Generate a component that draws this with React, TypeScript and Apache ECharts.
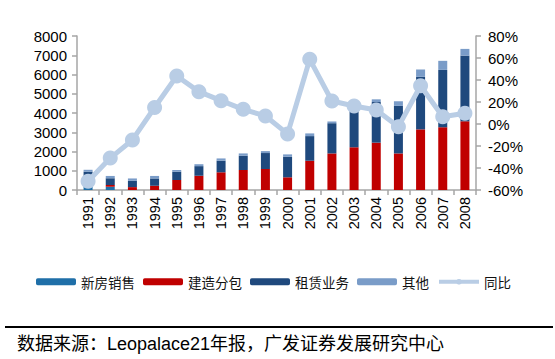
import React, { useEffect, useRef } from "react";
import * as echarts from "echarts";

const years = ["1991","1992","1993","1994","1995","1996","1997","1998","1999","2000","2001","2002","2003","2004","2005","2006","2007","2008"];
const newHomeSales = [200, 170, 0, 0, 0, 0, 0, 0, 0, 0, 0, 0, 0, 0, 0, 0, 0, 0];
const construction = [50, 90, 150, 220, 520, 740, 920, 1040, 1090, 660, 1520, 1900, 2220, 2460, 1900, 3150, 3260, 3570];
const rental = [700, 350, 330, 380, 430, 500, 600, 740, 830, 1070, 1280, 1570, 2000, 2110, 2470, 2730, 2980, 3410];
const others = [100, 120, 120, 130, 90, 100, 120, 120, 100, 120, 140, 90, 130, 140, 240, 380, 470, 350];
const yoy = [-52, -31, -14.5, 15, 43.6, 29.4, 21.2, 13.3, 7.3, -9, 58.8, 20.9, 16.4, 12.7, -2.4, 34.8, 6.6, 9.7];

const leftTicks = { min: 0, max: 8000, interval: 1000 };
const rightTicks = { min: -60, max: 80, interval: 20 };

const LATIN = '"Liberation Sans", Arial, "Noto Sans CJK SC", sans-serif';
const CJK = '"Noto Sans CJK SC", "Liberation Sans", sans-serif';

export default function App() {
  const ref = useRef<HTMLDivElement>(null);
  useEffect(() => {
    document.body.style.margin = "0";
    const chart = echarts.init(ref.current!, null, { renderer: "svg" });
    const axisLine = { show: true, lineStyle: { color: "#a6a6a6", width: 1.5 } };
    const axisTick = { show: true, length: 5, lineStyle: { color: "#a6a6a6", width: 1.5 } };
    const barW = 9;
    chart.setOption({
      animation: false,
      backgroundColor: "#ffffff",
      textStyle: { fontFamily: LATIN },
      grid: { left: 77, right: 79, top: 36, bottom: 169, containLabel: false },
      legend: {
        left: 31,
        top: 270,
        itemWidth: 40,
        itemHeight: 7,
        itemGap: 8,
        textStyle: { fontFamily: CJK, fontSize: 13.5, color: "#111" },
        data: [
          "新房销售",
          "建造分包",
          "租赁业务",
          "其他",
          { name: "同比", lineStyle: { width: 4, color: "#b9cde5" }, itemStyle: { color: "#b9cde5" } },
        ],
      },
      xAxis: {
        type: "category",
        data: years,
        axisLine,
        axisTick,
        axisLabel: { rotate: 90, fontSize: 14.5, color: "#000", margin: 7, fontFamily: LATIN },
      },
      yAxis: [
        {
          type: "value",
          min: leftTicks.min,
          max: leftTicks.max,
          interval: leftTicks.interval,
          axisLine,
          axisTick,
          splitLine: { show: false },
          axisLabel: { fontSize: 15, color: "#000", margin: 10, fontFamily: LATIN, formatter: (v: number) => String(v) },
        },
        {
          type: "value",
          position: "right",
          min: rightTicks.min,
          max: rightTicks.max,
          interval: rightTicks.interval,
          axisLine,
          axisTick,
          splitLine: { show: false },
          axisLabel: { fontSize: 15, color: "#000", margin: 12, fontFamily: LATIN, formatter: "{value}%" },
        },
      ],
      series: [
        { name: "新房销售", type: "bar", stack: "t", barWidth: barW, data: newHomeSales, itemStyle: { color: "#1f6fa8" } },
        { name: "建造分包", type: "bar", stack: "t", barWidth: barW, data: construction, itemStyle: { color: "#c00000" } },
        { name: "租赁业务", type: "bar", stack: "t", barWidth: barW, data: rental, itemStyle: { color: "#1f497d" } },
        { name: "其他", type: "bar", stack: "t", barWidth: barW, data: others, itemStyle: { color: "#7a9cc8" } },
        {
          name: "同比",
          type: "line",
          yAxisIndex: 1,
          data: yoy,
          symbol: "circle",
          symbolSize: 15,
          z: 5,
          lineStyle: { color: "#b9cde5", width: 5 },
          itemStyle: { color: "#b9cde5" },
        },
      ],
      graphic: [
        { type: "line", shape: { x1: 5, y1: 327, x2: 553, y2: 327 }, style: { stroke: "#000", lineWidth: 2 } },
        {
          type: "text",
          x: 17,
          y: 344,
          style: {
            text: "数据来源：Leopalace21年报，广发证券发展研究中心",
            font: '18px "Liberation Sans", "Noto Sans CJK SC", sans-serif',
            fill: "#000",
            verticalAlign: "middle",
          },
        },
      ],
    });
    return () => chart.dispose();
  }, []);
  return <div ref={ref} style={{ position: "absolute", left: 0, top: 0, width: 555, height: 359 }} />;
}
